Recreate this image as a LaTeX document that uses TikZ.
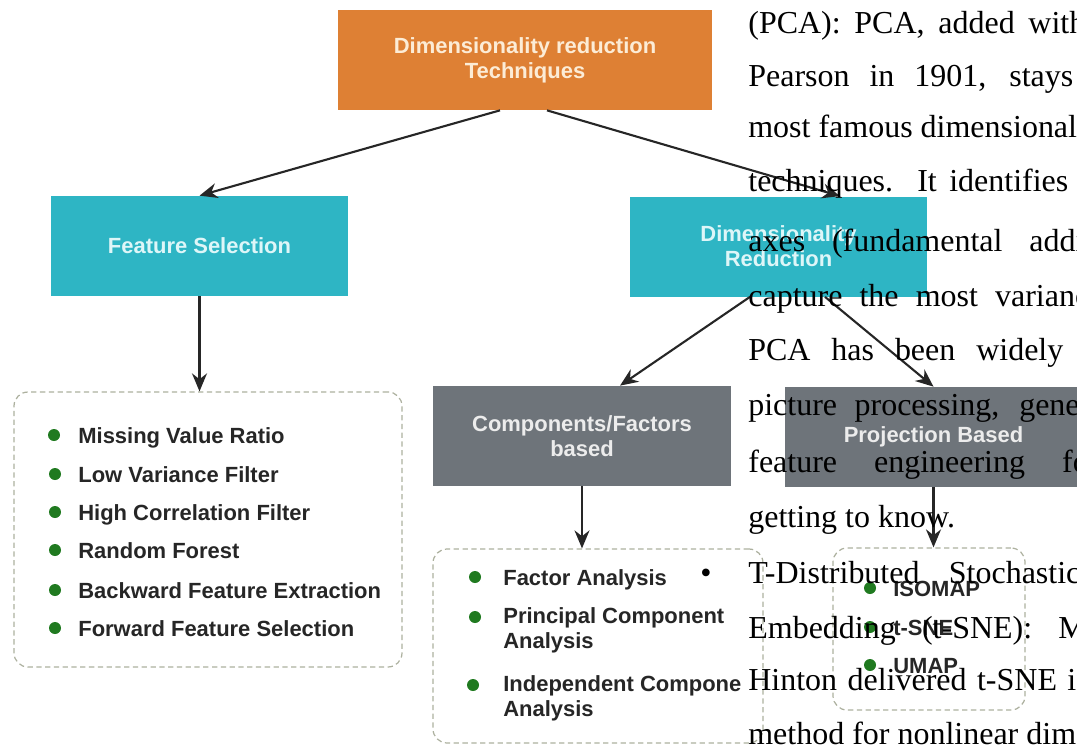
\documentclass[tikz,border=0pt]{standalone}
\usepackage{fontspec}
\setmainfont{Liberation Serif}
\newfontfamily\diagfont{Liberation Sans}
\usetikzlibrary{positioning}
\usetikzlibrary{arrows.meta}
\usetikzlibrary{calc}
\definecolor{techorange}{RGB}{222,128,52}
\definecolor{techteal}{RGB}{46,181,196}
\definecolor{techgray}{RGB}{110,116,122}
\definecolor{orangetext}{RGB}{252,236,214}
\definecolor{tealtext}{RGB}{222,246,248}
\definecolor{graytext}{RGB}{236,236,236}
\definecolor{bulletgreen}{RGB}{32,122,32}
\definecolor{dashgray}{RGB}{172,176,158}

\begin{document}
\begin{tikzpicture}[
  font=\diagfont\bfseries\fontsize{12.5}{14.2}\selectfont,
  topbox/.style={fill=techorange, text=orangetext, align=center, minimum width=7.48cm, minimum height=2cm},
  tealbox/.style={fill=techteal, text=tealtext, align=center, minimum width=5.94cm, minimum height=2cm},
  graybox/.style={fill=techgray, text=graytext, align=center, minimum width=5.96cm, minimum height=2cm},
  listbox/.style={draw=dashgray, dash pattern=on 3pt off 2pt, rounded corners=8pt, line width=0.7pt},
  entry/.style={anchor=base west, inner sep=0pt, text=black!85, align=left},
  gdot/.style={circle, fill=bulletgreen, minimum size=0.24cm, inner sep=0pt},
  arrow/.style={-{Stealth[length=0.36cm, width=0.3cm]}, line width=1.2pt, black!85},
  bodyline/.style={anchor=base west, inner sep=0pt, text=black, font=\rmfamily\mdseries\fontsize{18.2}{21}\selectfont}
]
\useasboundingbox (0,0) rectangle (21.54,-14.92);

% boxes of the tree
\node[topbox]  (top)     at (10.5,-1.2)   {Dimensionality reduction\\Techniques};
\node[tealbox] (featsel) at (3.99,-4.92)  {Feature Selection};
\node[tealbox] (dimred)  at (15.57,-4.93) {Dimensionality\\Reduction};
\node[graybox] (compbox) at (11.64,-8.72) {Components/Factors\\based};
\node[graybox] (projbox) at (18.67,-8.74) {Projection Based};

% dashed lists
\node[listbox, minimum width=7.76cm, minimum height=5.5cm]  (fslist) at (4.16,-10.59) {};
\node[listbox, minimum width=6.6cm,  minimum height=3.88cm] (cflist) at (11.96,-12.92) {};
\node[listbox, minimum width=3.84cm, minimum height=3.24cm] (pjlist) at (18.58,-12.58) {};

\draw[arrow] ([xshift=-0.5cm]top.south) -- (featsel.north);
\draw[arrow] ([xshift=0.44cm]top.south) -- ([xshift=1.23cm]dimred.north);
\draw[arrow] (featsel.south) -- (featsel.south |- fslist.north);
\draw[arrow] ([xshift=-0.57cm]dimred.south) -- ([xshift=0.76cm]compbox.north);
\draw[arrow] ([xshift=0.93cm]dimred.south) -- (projbox.north);
\draw[arrow] (compbox.south) -- (compbox.south |- cflist.north);
\draw[arrow] (projbox.south) -- (projbox.south |- pjlist.north);

% feature selection methods
\node[gdot]  (fsb1) at (1.08,-8.7)   {};
\node[entry] (fs1)  at (1.56,-8.86)  {Missing Value Ratio};
\node[gdot]  (fsb2) at (1.1,-9.48)   {};
\node[entry] (fs2)  at (1.56,-9.64)  {Low Variance Filter};
\node[gdot]  (fsb3) at (1.1,-10.24)  {};
\node[entry] (fs3)  at (1.56,-10.4)  {High Correlation Filter};
\node[gdot]  (fsb4) at (1.1,-11.0)   {};
\node[entry] (fs4)  at (1.56,-11.16) {Random Forest};
\node[gdot]  (fsb5) at (1.1,-11.8)   {};
\node[entry] (fs5)  at (1.56,-11.96) {Backward Feature Extraction};
\node[gdot]  (fsb6) at (1.1,-12.56)  {};
\node[entry] (fs6)  at (1.56,-12.72) {Forward Feature Selection};

% components / factors methods
\node[gdot]  (cfb1) at (9.5,-11.54)  {};
\node[entry] (cf1)  at (10.06,-11.7) {Factor Analysis};
\node[gdot]  (cfb2) at (9.5,-12.34)  {};
\node[entry] (cf2)  at (10.06,-12.96) {Principal Component\\Analysis};
\node[gdot]  (cfb3) at (9.46,-13.7)  {};
\node[entry] (cf3)  at (10.06,-14.32) {Independent Compone\\Analysis};

% projection methods
\node[gdot]  (pjb1) at (17.4,-11.76)  {};
\node[entry] (pj1)  at (17.86,-11.92) {ISOMAP};
\node[gdot]  (pjb2) at (17.4,-12.54)  {};
\node[entry] (pj2)  at (17.86,-12.7)  {t-SNE};
\node[gdot]  (pjb3) at (17.4,-13.3)   {};
\node[entry] (pj3)  at (17.86,-13.46) {UMAP};

% text of the page lying over the figure
\node[bodyline] (b1)  at (14.96,-0.66)  {\makebox[6.74cm][s]{(PCA): PCA, added with}};
\node[bodyline] (b2)  at (14.96,-1.72)  {\makebox[6.5cm][s]{Pearson in 1901, stays}};
\node[bodyline] (b3)  at (14.96,-2.74)  {most famous dimensionality};
\node[bodyline] (b4)  at (14.96,-3.83)  {\makebox[6.4cm][s]{techniques. It identifies}};
\node[bodyline] (b5)  at (14.96,-5.02)  {\makebox[6.72cm][s]{axes (fundamental addi}};
\node[bodyline] (b6)  at (14.96,-6.13)  {\makebox[7.1cm][s]{capture the most variance}};
\node[bodyline] (b7)  at (14.96,-7.2)   {\makebox[6.3cm][s]{PCA has been widely}};
\node[bodyline] (b8)  at (14.96,-8.3)   {\makebox[7.3cm][s]{picture processing, general}};
\node[bodyline] (b9)  at (14.96,-9.45)  {\makebox[7.02cm][s]{feature engineering for}};
\node[bodyline] (b10) at (14.96,-10.55) {getting to know.};
\node[bodyline] (bdot) at (14.0,-11.66) {\textbullet};
\node[bodyline] (b11) at (14.96,-11.66) {\makebox[6.64cm][s]{T-Distributed Stochastic}};
\node[bodyline] (b12) at (14.96,-12.76) {\makebox[8.12cm][s]{Embedding (t-SNE): Maaten}};
\node[bodyline] (b13) at (14.96,-13.8)  {\makebox[6.88cm][s]{Hinton delivered t-SNE in}};
\node[bodyline] (b14) at (14.96,-14.88) {method for nonlinear dimensionality};

\end{tikzpicture}
\end{document}
